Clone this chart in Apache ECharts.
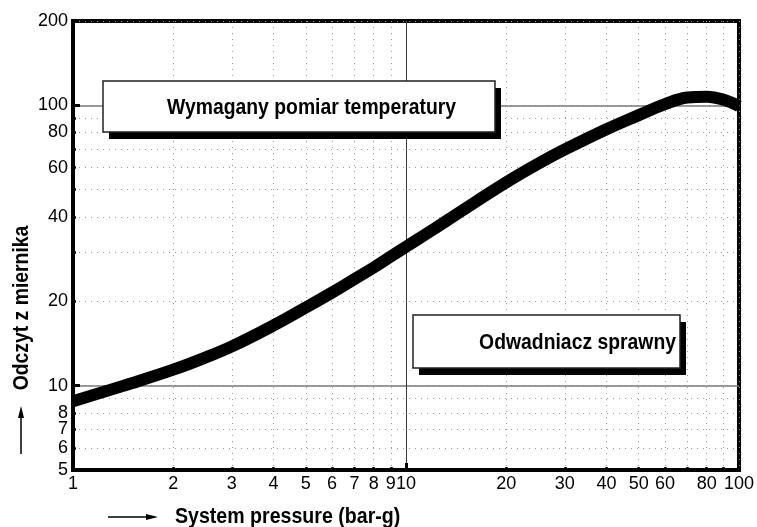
<!DOCTYPE html>
<html>
<head>
<meta charset="utf-8">
<script src="https://cdn.jsdelivr.net/npm/echarts@6/dist/echarts.min.js"></script>
<style>
  html, body { margin: 0; padding: 0; background: #fff; }
  #chart { width: 757px; height: 527px; }
</style>
</head>
<body>
<div id="chart"></div>
<script>
// Gauge reading against system pressure (both on log scales)
const pressure = [1, 1.5, 2, 2.5, 3, 4, 5, 6, 7, 8, 9, 10, 12, 15, 20, 25, 30, 40, 50, 60, 70, 80, 90, 100];
const reading  = [8.8, 10.2, 11.4, 12.6, 13.8, 16.4, 19.0, 21.5, 24.0, 26.4, 28.9, 31.3, 35.9, 42.7, 53.1, 62.0, 69.6, 82.2, 92.3, 101.1, 106.7, 107.4, 104.7, 99.3];

const xRange = [1, 100];
const yRange = [5, 200];
const xTickValues  = [1, 2, 3, 4, 5, 6, 7, 8, 9, 10, 20, 30, 40, 50, 60, 70, 80, 90, 100];
const xLabelValues = [1, 2, 3, 4, 5, 6, 7, 8, 9, 10, 20, 30, 40, 50, 60, 80, 100];
const yTickValues  = [5, 6, 7, 8, 9, 10, 20, 30, 40, 50, 60, 70, 80, 90, 100, 200];
const yLabelValues = [5, 6, 7, 8, 10, 20, 40, 60, 80, 100, 200];
const xMajorValues = [10];
const yMajorValues = [10, 100];

const xTitle = 'System pressure (bar-g)';
const yTitle = 'Odczyt z miernika';
const noteHigh = 'Wymagany pomiar temperatury';
const noteLow = 'Odwadniacz sprawny';

const lg = Math.log10;
const fmt = v => String(Math.round(Math.pow(10, v)));
const FONT = '"Liberation Sans", Arial, sans-serif';
const BOLD = 'bold 22px "Liberation Sans", Arial, sans-serif';

const chart = echarts.init(document.getElementById('chart'), null, { renderer: 'canvas' });

const dotted = { color: '#9a9a9a', width: 1, type: [1, 5] };

function minorAxis(dim, range, ticks, labels) {
  return {
    type: 'value',
    position: dim === 'x' ? 'bottom' : 'left',
    min: lg(range[0]),
    max: lg(range[1]),
    axisLine: { show: true, lineStyle: { color: '#000', width: 4 } },
    axisTick: {
      show: true, inside: true, length: 3,
      lineStyle: { color: '#000', width: 2.5 },
      customValues: ticks.map(lg)
    },
    axisLabel: {
      show: true,
      customValues: labels.map(lg),
      formatter: fmt,
      color: '#000',
      fontSize: 18,
      fontFamily: FONT,
      margin: 5
    },
    splitLine: { show: true, lineStyle: dotted }
  };
}

function majorAxis(dim, range, values, lineColor, lineWidth) {
  return {
    type: 'value',
    position: dim === 'x' ? 'bottom' : 'left',
    min: lg(range[0]),
    max: lg(range[1]),
    axisLine: { show: false },
    axisTick: {
      show: true, inside: true, length: 7,
      lineStyle: { color: '#000', width: 3 },
      customValues: values.map(lg)
    },
    axisLabel: { show: false },
    splitLine: { show: true, lineStyle: { color: lineColor, width: lineWidth } }
  };
}

function noteBox(x, y, w, h, text, tx, ty, align) {
  return [
    { type: 'rect', z: 20, shape: { x: x + 6, y: y + 7, width: w, height: h }, style: { fill: '#000' } },
    { type: 'rect', z: 21, shape: { x: x, y: y, width: w, height: h }, style: { fill: '#fff', stroke: '#222', lineWidth: 1.5 } },
    { type: 'text', z: 22, x: tx, y: ty, scaleX: 0.88,
      style: { text: text, font: BOLD, fill: '#000', textAlign: align, textVerticalAlign: 'middle', align: align, verticalAlign: 'middle' } }
  ];
}

const graphics = [].concat(
  noteBox(103, 81, 392, 51, noteHigh, 167, 108, 'left'),
  noteBox(413, 315, 267, 53, noteLow, 676, 343, 'right'),
  [
    // axis titles
    { type: 'text', z: 22, x: 175, y: 517, scaleX: 0.89,
      style: { text: xTitle, font: BOLD, fill: '#000', textAlign: 'left', textVerticalAlign: 'middle', align: 'left', verticalAlign: 'middle' } },
    { type: 'text', z: 22, x: 22, y: 308, rotation: Math.PI / 2, scaleX: 0.88,
      style: { text: yTitle, font: BOLD, fill: '#000', textAlign: 'center', textVerticalAlign: 'middle', align: 'center', verticalAlign: 'middle' } },
    // direction arrows
    { type: 'line', z: 22, shape: { x1: 108, y1: 517, x2: 150, y2: 517 }, style: { stroke: '#000', lineWidth: 1.5 } },
    { type: 'polygon', z: 22, shape: { points: [[146, 514], [158, 517], [146, 520]] }, style: { fill: '#000' } },
    { type: 'line', z: 22, shape: { x1: 21, y1: 454, x2: 21, y2: 414 }, style: { stroke: '#000', lineWidth: 1.5 } },
    { type: 'polygon', z: 22, shape: { points: [[18, 418], [21, 406], [24, 418]] }, style: { fill: '#000' } }
  ]
);

chart.setOption({
  animation: false,
  backgroundColor: '#fff',
  grid: {
    left: 73, right: 14, top: 21, bottom: 57,
    show: true, borderColor: '#000', borderWidth: 4, backgroundColor: 'transparent'
  },
  xAxis: [
    minorAxis('x', xRange, xTickValues, xLabelValues),
    majorAxis('x', xRange, xMajorValues, '#3a3a3a', 1)
  ],
  yAxis: [
    minorAxis('y', yRange, yTickValues, yLabelValues),
    majorAxis('y', yRange, yMajorValues, '#7a7a7a', 1.5)
  ],
  series: [{
    type: 'line',
    xAxisIndex: 0,
    yAxisIndex: 0,
    data: pressure.map((p, i) => [lg(p), lg(reading[i])]),
    smooth: 0.4,
    showSymbol: false,
    clip: true,
    z: 5,
    lineStyle: { color: '#000', width: 12, join: 'round', cap: 'butt' }
  }],
  graphic: graphics
});
</script>
</body>
</html>
